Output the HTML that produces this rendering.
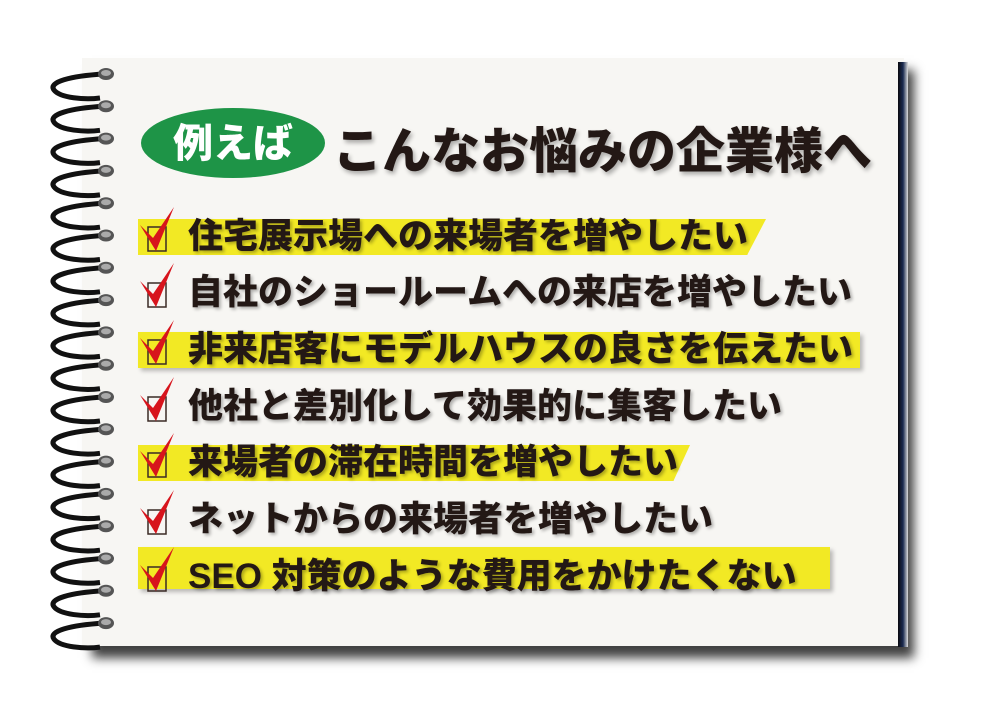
<!DOCTYPE html>
<html><head><meta charset="utf-8"><style>
body{margin:0;width:1000px;height:716px;background:#fff;position:relative;overflow:hidden;font-family:"Liberation Sans","Noto Sans CJK JP",sans-serif}
.paper{position:absolute;left:82px;top:58px;width:822px;height:588px;background:#f7f6f3;box-shadow:10px 12px 10px rgba(0,0,0,.75)}
.edge{position:absolute;left:898px;top:62px;width:10px;height:585px;background:linear-gradient(90deg,#0a0a10,#1a2a50,#ddd)}
.band{position:absolute;left:138px;height:36px;background:#f2e924;box-shadow:3px 3px 4px rgba(0,0,0,.25)}
.row{position:absolute;left:188px;font-size:35px;font-weight:900;color:#231815;white-space:nowrap;line-height:36px;text-shadow:2px 2px 3px rgba(0,0,0,.3)}
.title{position:absolute;left:333px;top:112px;font-size:49px;font-weight:900;color:#231815;text-shadow:2px 3px 4px rgba(0,0,0,.3)}
</style></head><body>
<div class="paper"></div>
<div class="edge"></div>
<svg style="position:absolute;left:0;top:0" width="1000" height="716">
<g id="rings"></g>
<ellipse cx="233" cy="143" rx="92" ry="35" fill="#1e9447"/>
<text x="233" y="157" text-anchor="middle" font-size="40" font-weight="900" fill="#fff" font-family="Liberation Sans,Noto Sans CJK JP,sans-serif">例えば</text>
</svg>
<div class="title">こんなお悩みの企業様へ</div>

<div class="band" style="top:219px;width:628px;clip-path:polygon(0 0,100% 0,97% 100%,0 100%)"></div>
<div class="band" style="top:332px;width:722px"></div>
<div class="band" style="top:445px;width:552px;clip-path:polygon(0 0,100% 0,97% 100%,0 100%)"></div>
<div class="band" style="top:547px;width:692px;height:42px"></div>

<div class="row" style="top:219px">住宅展示場への来場者を増やしたい</div>
<div class="row" style="top:275px">自社のショールームへの来店を増やしたい</div>
<div class="row" style="top:332px">非来店客にモデルハウスの良さを伝えたい</div>
<div class="row" style="top:389px">他社と差別化して効果的に集客したい</div>
<div class="row" style="top:445px">来場者の滞在時間を増やしたい</div>
<div class="row" style="top:502px">ネットからの来場者を増やしたい</div>
<div class="row" style="top:559px">SEO 対策のような費用をかけたくない</div>

<svg style="position:absolute;left:0;top:0" width="1000" height="716">
<g id="checks"></g>
</svg>
<script>
var ys=[237,293,350,407,463,520,577],g=document.getElementById('checks'),h='';
ys.forEach(function(y){h+='<rect x="148" y="'+(y-10)+'" width="18" height="24" fill="none" stroke="#3a2a25" stroke-width="1.5"/>'+
'<path d="M140 '+(y-12)+' L153 '+(y+1)+' L174 '+(y-30)+' L156 '+(y+14)+' Z" fill="#d7141c"/>';});
g.innerHTML=h;
var r='';
for(var i=0;i<18;i++){var y=74+i*32.3;
r+='<path d="M104 '+y+' C70 '+(y+2)+',48 '+(y+8)+',54 '+(y+16)+' C60 '+(y+24)+',85 '+(y+26)+',100 '+(y+24)+'" fill="none" stroke="#111" stroke-width="5"/>'+
'<ellipse cx="106" cy="'+y+'" rx="8" ry="6" fill="#555"/><ellipse cx="106" cy="'+(y-1)+'" rx="5" ry="3" fill="#aaa"/>';}
document.getElementById('rings').innerHTML=r;
</script>
</body></html>
